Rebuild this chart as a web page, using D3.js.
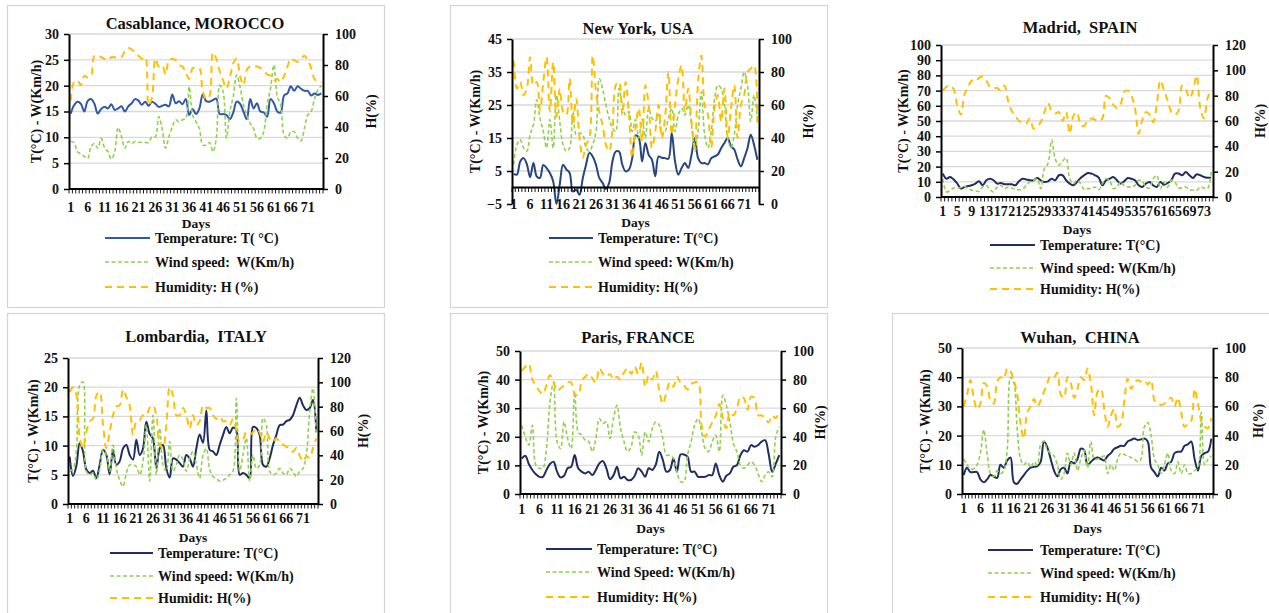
<!DOCTYPE html>
<html>
<head>
<meta charset="utf-8">
<script src="https://cdn.jsdelivr.net/npm/d3@7"></script>
<style>
  html, body { margin: 0; padding: 0; background: #fff; }
  svg text { font-family: "Liberation Serif", "Times New Roman", serif; font-weight: bold; fill: #111; white-space: pre; }
</style>
</head>
<body>
<svg id="chart" width="1269" height="613"></svg>
<script>
// ---- Daily weather series (75 days; Paris 74) ----
const casaTemp = [14.6,16.2,16.9,16.5,15.0,17.0,17.4,16.5,14.6,15.5, 15.9,15.6,16.4,15.3,15.6,16.0,15.0,16.0,16.6,17.4, 17.1,16.3,16.9,16.1,16.9,16.5,15.9,16.1,16.3,16.0, 18.3,16.6,17.0,16.4,17.4,14.3,15.5,14.5,15.6,18.3, 17.0,16.9,17.2,17.5,14.5,14.5,14.3,13.5,14.8,16.9, 16.5,15.0,13.5,17.4,15.6,16.6,15.0,14.8,14.0,17.4, 16.6,15.0,14.8,18.1,18.5,19.9,19.0,19.9,19.4,19.0, 19.0,18.1,18.5,18.2,18.5];
const casaWind = [9.2,9.0,7.2,6.8,6.3,5.9,8.2,8.8,7.9,9.8, 8.0,7.2,5.8,7.2,11.9,10.1,7.9,9.2,8.8,9.2, 9.1,9.0,9.0,9.0,10.1,10.1,14.0,11.7,7.9,10.1, 12.0,13.4,13.0,13.4,13.7,19.8,14.3,13.0,11.7,8.5, 8.5,9.0,7.2,9.8,20.1,18.8,9.8,15.0,17.9,22.1, 19.8,16.3,14.3,12.7,11.7,9.8,9.8,11.1,16.3,19.5, 24.0,17.9,16.3,10.5,9.8,11.1,11.1,9.8,9.3,11.7, 14.3,15.0,17.5,19.2,20.0];
const casaHum = [57,69,70,67,73,72,73,86,86,85, 84,83,85,85,85,85,89,91,90,88, 86,84,85,54,59,84,79,80,74,83, 84,83,80,79,75,71,78,78,78,63, 58,60,88,84,76,70,65,72,81,84, 73,67,77,79,79,79,78,76,74,73, 70,71,69,73,79,84,83,82,84,86, 83,78,71,69,69];

const nyTemp = [4.1,3.9,7.9,8.9,7.1,3.1,7.4,3.4,2.9,6.8, 5.9,4.4,1.9,-5.0,0.9,6.9,5.5,4.4,-1.2,-0.7, -2.2,2.9,7.0,10.5,9.4,6.9,2.9,1.4,-0.4,1.4, 7.9,10.9,10.9,6.9,4.9,5.4,8.9,15.8,15.0,7.9, 13.5,9.9,8.4,3.4,9.4,9.0,8.9,8.7,16.5,8.0, 3.9,5.9,7.4,5.9,9.9,15.0,8.9,7.4,7.4,7.0, 8.9,9.4,10.0,11.9,13.5,15.0,12.5,11.5,8.5,6.4, 8.9,11.9,16.0,12.9,8.4];
const nyWind = [7,13,14.5,12,11,16,19,26.6,21,17, 12,20.6,12,28,20,13,11,12,23,16, 16.5,16,12,11,13,17,33,30,25,21, 18,17,30,25,22,23,17,20.6,15,20.6, 15,24,21,20,22,16,17,21,24,17, 22,24,22,25,19,11,17,29,16,12, 17,26.6,31,30,25,15,12,16,25,30, 35,31,20,28,21];
const nyHum = [87,70,74,66,70,89,72,74,57,74, 89,56,86,53,70,56,54,76,48,64, 40,28,36,40,90,68,56,48,36,32, 45,72,74,54,74,54,28,46,58,38, 72,60,34,44,60,40,53,80,42,60, 76,84,56,70,50,34,74,90,60,54, 34,58,66,50,70,40,58,72,40,60, 66,80,82,84,46];

const madTemp = [15.4,12.0,13.2,11.5,8.8,5.5,6.6,7.2,7.7,8.8, 10.3,7.7,11,12,11,8.8,9.2,8.4,8.4,8.4, 7.7,10.3,12,11.5,11,11,12.5,11,9.9,10.3, 12,11,14.3,14.3,11,8.8,7.7,9.9,12.5,14.3, 15.8,15.4,14.3,12.7,7.7,11,12,13.2,11,8.8, 10.3,12.5,12,11,7.7,6.6,8.8,9.9,7.7,6.6, 9.9,8.1,9.2,11,15.4,15.4,14.3,16.5,14.3,12.5, 15,14.3,13.2,12.7,12.7];
const madWind = [12,3.3,4.4,5.9,5.9,6.2,7,5.5,4.4,4, 3.7,6.6,7.7,4.8,3.3,6.6,7.7,5.5,6.6,5.9, 5,4.8,5,7.7,9.9,11,12,5.5,18.7,22, 37.4,25,21,23.5,25.7,12,8.8,11,8.8,4.8, 5.5,5.5,6.6,4.8,8.8,12,11,5.5,6.6,9.9, 7.5,6.6,6.6,7.7,11,10.3,6.6,5.9,12,14.3, 5.5,9.9,6.6,11,9.9,5.9,6.2,6.6,4.8,4.6, 4.4,6.6,5.9,5.5,16.5];
const madHum = [84,87,88,85,72,65,81,87,92,91, 94,95,92,87,86,86,84,88,76,68, 64,60,59,58,62,54,56,59,67,74, 68,66,67,60,67,50,64,67,57,56, 61,62,61,60,62,80,78,73,70,73, 83,84,80,70,50,61,67,65,59,73, 92,84,76,67,65,68,88,85,78,84, 96,70,62,78,85];

const lomTemp = [8.1,4.8,6.5,10.4,9.0,5.9,5.3,5.7,4.4,6.7, 9.3,8.4,5.1,9.3,6.7,7.3,9.5,10.1,8.4,7.6, 11.0,8.4,9.5,14.1,12.0,11.2,6.1,9.5,10.1,6.1, 4.5,7.8,7.6,7.0,6.4,8.4,7.8,6.4,9.5,11.9, 10.5,16.0,9.3,9.0,8.4,10.1,11.8,13.2,12.1,13.1, 12.7,5.0,5.3,5.0,4.4,13.2,13.0,11.8,6.7,6.4, 7.8,10.1,11.8,13.5,13.6,14.2,14.4,15.2,16.9,18.2, 16.9,16.1,16.4,17.8,12.4];
const lomWind = [5.6,6.0,9.0,20.3,20.9,5.6,5.0,5.3,4.1,5.9, 9.3,8.4,5.6,10.1,6.1,4.1,3.0,5.3,6.7,6.7, 6.4,5.0,7.3,13.5,3.9,15.2,5.0,13.0,6.7,5.6, 10.7,5.6,6.7,8.4,7.6,5.6,7.8,9.0,6.7,4.4, 8.4,9.5,5.9,4.7,4.4,3.9,4.1,4.4,5.0,5.6, 18.1,5.6,8.4,11.3,3.9,8.4,6.1,6.7,14.7,13.5, 5.6,5.0,5.3,6.1,5.3,5.0,6.1,5.6,4.7,5.6, 6.1,8.4,15.8,19.8,11.8];
const lomHum = [92,96,90,55,46,59,68,70,89,92, 65,46,59,73,80,81,94,88,81,57, 68,69,73,73,79,81,73,49,46,65, 96,89,73,73,79,73,62,73,65,68, 81,79,79,73,70,72,68,68,65,70, 61,51,53,59,57,59,62,59,51,59, 54,51,54,51,49,47,46,43,46,40, 35,39,38,46,54];

const parTemp = [12.4,13.4,10.5,8.4,6.9,6.0,6.0,8.4,10.5,11.3, 7.8,5.8,6.4,9.0,9.5,13.6,9.0,7.8,7.2,7.8, 6.6,8.4,10.7,11.5,9.0,5.2,6.5,9.5,5.5,6.0, 4.9,4.9,6.3,9.0,7.8,6.0,9.0,8.4,10.3,14.8, 11.9,7.8,8.4,12.4,7.8,13.8,13.8,13.0,7.8,7.8, 6.0,6.0,6.0,6.6,6.6,10.7,6.6,4.3,6.4,7.2, 9.5,10.1,13.6,15.3,14.8,17.1,16.5,17.1,18.3,18.8, 14.0,7.8,10.5,13.6];
const parWind = [24,20,17.1,24,10.1,9,9,15.9,32.2,39, 18.3,15.9,25.2,19.4,15.9,35.7,21.7,20.6,18.8,18.3, 14.8,19.4,26.4,24.7,25.2,19.4,26.4,31,22.9,18.3, 14.8,16.5,21.7,20.6,13.6,21.7,18.3,22.9,25.2,24, 19.4,13.6,13.6,12.4,7.8,4.3,4.3,13.6,18.3,24, 26.4,21.7,15.9,14.8,18.3,20.6,14.8,34.5,31,25.2, 17.7,14.8,10.1,9,10.1,11.3,10.1,7.2,4.3,6.6, 7.8,6,20,23.5];
const parHum = [86,89,91,80,76,72,70,76,83,79, 72,74,76,78,78,70,69,79,82,84, 81,78,88,84,82,84,80,82,80,85, 88,84,89,84,92,75,83,80,86,72, 63,71,78,75,82,78,76,73,77,78, 78,48,40,45,50,55,63,53,46,57, 55,60,68,67,59,68,67,55,55,53, 50,55,53,58];

const wuhTemp = [6.5,9,7.5,7.5,7.5,5,4,5,6.5,6, 5.5,10,9,11.5,12.5,4,3.5,5,6.5,8, 9,9.3,9.5,11,18,16,12,8,6,8.5, 9,7,11,10.5,12,15.5,15,10,11,12, 12.5,12,11.5,13,14,15.5,16,16.5,16.5,18, 18.5,19,18.5,18.7,19,18,9,7.5,6,9, 8,10.5,11,14,14.5,14.5,16.5,17,18,12, 8,13,14,14.5,19];
const wuhWind = [12,10,8.5,8.7,10,14,22,14,7,6, 8,7,8,15,40,38,22,12,10,11, 9,11,10,17,18,15,14,13,10,5, 7,14,10,14,8,12,15,9,18,12, 12,12.5,13,7,10,8,12,14,13.5,13, 12.5,12,11,12,23,24.5,20,12,10,7, 10,14,8,7,11,7,10,7,7,8, 9,28,10,12,13];
const wuhHum = [60,68,78,66,58,62,76,74,64,62, 77,80,79,86,84,78,68,48,38,56, 60,65,60,64,70,76,81,80,83,68, 66,80,76,66,72,80,78,86,76,54, 70,72,58,46,54,58,46,48,64,79, 72,76,78,77,78,75,78,64,62,61, 62,64,66,60,66,56,46,48,50,72, 62,50,46,45,52];

// ---- Axis tick values ----
const casaLeftTicks = [0,5,10,15,20,25,30];
const nyLeftTicks = [-5,5,15,25,35,45];
const madLeftTicks = [0,10,20,30,40,50,60,70,80,90,100];
const lomLeftTicks = [0,5,10,15,20,25];
const fiftyLeftTicks = [0,10,20,30,40,50];
const hum100Ticks = [0,20,40,60,80,100];
const hum120Ticks = [0,20,40,60,80,100,120];
const dayTicksBy5 = [1,6,11,16,21,26,31,36,41,46,51,56,61,66,71];
const dayTicksBy4 = [1,5,9,13,17,21,25,29,33,37,41,45,49,53,57,61,65,69,73];

const COL_WIND = "#92d050";
const COL_HUM = "#ffc000";
const DASH_WIND = "4,2.5";
const DASH_HUM = "7,5";

const panels = [
  { title: "Casablance, MOROCCO", temp: casaTemp, wind: casaWind, hum: casaHum,
    leftTicks: casaLeftTicks, rightTicks: hum100Ticks, dayTicks: dayTicksBy5, tempColor: "#3158a8",
    box: [7, 5, 384, 307], plot: { x0: 69, x1: 323, y0: 34, y1: 189 },
    titleX: 195, titleY: 23, leftTitleX: 36, rightTitleX: 371, labelY: 207, daysY: 223,
    legend: { x0: 105, x1: 150, tx: 155, rows: [238, 262, 287] },
    legendText: ["Temperature: T( °C)", "Wind speed:  W(Km/h)", "Humidity: H (%)"] },
  { title: "New York, USA", temp: nyTemp, wind: nyWind, hum: nyHum,
    leftTicks: nyLeftTicks, rightTicks: hum100Ticks, dayTicks: dayTicksBy5, tempColor: "#27467d",
    box: [450, 5, 827, 307], plot: { x0: 512, x1: 759, y0: 39, y1: 204 },
    titleX: 638, titleY: 28, leftTitleX: 475, rightTitleX: 808, labelY: 204, daysY: 222,
    legend: { x0: 549, x1: 593, tx: 598, rows: [238, 262, 287] },
    legendText: ["Temperature: T(°C)", "Wind speed: W(Km/h)", "Humidity: H(%)"] },
  { title: "Madrid,  SPAIN", temp: madTemp, wind: madWind, hum: madHum,
    leftTicks: madLeftTicks, rightTicks: hum120Ticks, dayTicks: dayTicksBy4, tempColor: "#1f2e5e",
    box: null, plot: { x0: 941, x1: 1213, y0: 45, y1: 197 },
    titleX: 1080, titleY: 27, leftTitleX: 903, rightTitleX: 1260, labelY: 211, daysY: 229,
    legend: { x0: 990, x1: 1035, tx: 1040, rows: [245, 268, 289] },
    legendText: ["Temperature: T(°C)", "Wind speed: W(Km/h)", "Humidity: H(%)"] },
  { title: "Lombardia,  ITALY", temp: lomTemp, wind: lomWind, hum: lomHum,
    leftTicks: lomLeftTicks, rightTicks: hum120Ticks, dayTicks: dayTicksBy5, tempColor: "#1f2e5e",
    box: [7, 313, 384, 640], plot: { x0: 68, x1: 318, y0: 358, y1: 504 },
    titleX: 196, titleY: 336, leftTitleX: 33, rightTitleX: 363, labelY: 518, daysY: 537,
    legend: { x0: 110, x1: 153, tx: 158, rows: [553, 576, 598] },
    legendText: ["Temperature: T(°C)", "Wind speed: W(Km/h)", "Humidit: H(%)"] },
  { title: "Paris, FRANCE", temp: parTemp, wind: parWind, hum: parHum,
    leftTicks: fiftyLeftTicks, rightTicks: hum100Ticks, dayTicks: dayTicksBy5, tempColor: "#1f2e5e",
    box: [450, 313, 827, 640], plot: { x0: 520, x1: 781, y0: 351, y1: 494 },
    titleX: 638, titleY: 337, leftTitleX: 483, rightTitleX: 820, labelY: 509, daysY: 528,
    legend: { x0: 546, x1: 592, tx: 597, rows: [549, 572, 597] },
    legendText: ["Temperature: T(°C)", "Wind Speed: W(Km/h)", "Humidity: H(%)"] },
  { title: "Wuhan,  CHINA", temp: wuhTemp, wind: wuhWind, hum: wuhHum,
    leftTicks: fiftyLeftTicks, rightTicks: hum100Ticks, dayTicks: dayTicksBy5, tempColor: "#1f2e5e",
    box: [892, 313, 1280, 640], plot: { x0: 962, x1: 1213, y0: 348, y1: 494 },
    titleX: 1080, titleY: 337, leftTitleX: 925, rightTitleX: 1258, labelY: 508, daysY: 528,
    legend: { x0: 988, x1: 1033, tx: 1040, rows: [550, 573, 597] },
    legendText: ["Temperature: T(°C)", "Wind speed: W(Km/h)", "Humidity: H(%)"] }
];

const svg = d3.select("#chart");

function styleAxis(sel) {
  sel.select(".domain").attr("stroke", "#000").attr("stroke-width", 2);
  sel.selectAll(".tick line").attr("stroke", "#000").attr("stroke-width", 1.5);
  sel.selectAll(".tick text").style("font-size", "14px").attr("fill", "#111");
}

function drawPanel(p) {
  const g = svg.append("g");
  const P = p.plot;

  if (p.box) {
    g.append("rect")
      .attr("x", p.box[0] + 0.5).attr("y", p.box[1] + 0.5)
      .attr("width", p.box[2] - p.box[0]).attr("height", p.box[3] - p.box[1])
      .attr("fill", "none").attr("stroke", "#d4d4d4").attr("stroke-width", 1.2);
  }

  const days = d3.range(1, p.temp.length + 1);
  const x = d3.scaleBand().domain(days).range([P.x0, P.x1]).padding(0);
  const yL = d3.scaleLinear().domain(d3.extent(p.leftTicks)).range([P.y1, P.y0]);
  const yR = d3.scaleLinear().domain(d3.extent(p.rightTicks)).range([P.y1, P.y0]);
  const cx = d => x(d) + x.bandwidth() / 2;

  // horizontal gridlines at the primary-axis ticks
  g.append("g").selectAll("line")
    .data(p.leftTicks.slice(1))
    .join("line")
    .attr("x1", P.x0).attr("x2", P.x1)
    .attr("y1", d => yL(d)).attr("y2", d => yL(d))
    .attr("stroke", "#d9d9d9").attr("stroke-width", 1.3);

  // series
  const lineL = d3.line().x((d, i) => cx(days[i])).y(d => yL(d)).curve(d3.curveCatmullRom.alpha(0.5));
  const lineR = d3.line().x((d, i) => cx(days[i])).y(d => yR(d)).curve(d3.curveCatmullRom.alpha(0.5));

  g.append("path").datum(p.temp).attr("d", lineL)
    .attr("fill", "none").attr("stroke", p.tempColor).attr("stroke-width", 2);
  g.append("path").datum(p.wind).attr("d", lineL)
    .attr("fill", "none").attr("stroke", COL_WIND).attr("stroke-width", 1.6)
    .attr("stroke-dasharray", DASH_WIND);
  g.append("path").datum(p.hum).attr("d", lineR)
    .attr("fill", "none").attr("stroke", COL_HUM).attr("stroke-width", 2)
    .attr("stroke-dasharray", DASH_HUM);

  // category axis: line at zero, one small tick per day boundary
  const axisY = yL(0);
  const bw = x.bandwidth();
  g.append("g").selectAll("line")
    .data(d3.range(0, days.length + 1))
    .join("line")
    .attr("x1", i => P.x0 + i * bw).attr("x2", i => P.x0 + i * bw)
    .attr("y1", axisY).attr("y2", axisY + 4.5)
    .attr("stroke", "#000").attr("stroke-width", 0.9);
  g.append("line")
    .attr("x1", P.x0).attr("x2", P.x1).attr("y1", axisY).attr("y2", axisY)
    .attr("stroke", "#000").attr("stroke-width", 2);

  const xAxis = d3.axisBottom(x).tickValues(p.dayTicks).tickSize(0).tickPadding(0);
  const gx = g.append("g").attr("transform", `translate(0,${p.labelY - 5.3})`).call(xAxis);
  gx.select(".domain").remove();
  gx.selectAll(".tick text").style("font-size", "14px").attr("fill", "#111");

  // value axes
  const gl = g.append("g").attr("transform", `translate(${P.x0},0)`)
    .call(d3.axisLeft(yL).tickValues(p.leftTicks).tickSize(5).tickSizeOuter(0).tickPadding(5));
  styleAxis(gl);
  const gr = g.append("g").attr("transform", `translate(${P.x1},0)`)
    .call(d3.axisRight(yR).tickValues(p.rightTicks).tickSize(5).tickSizeOuter(0).tickPadding(7));
  styleAxis(gr);

  // titles
  g.append("text").attr("x", p.titleX).attr("y", p.titleY).attr("dy", "0.35em")
    .attr("text-anchor", "middle").style("font-size", "16.5px").text(p.title);
  const midY = (P.y0 + P.y1) / 2;
  g.append("text").attr("transform", `translate(${p.leftTitleX},${midY}) rotate(-90)`)
    .attr("dy", "0.35em").attr("text-anchor", "middle").style("font-size", "14px")
    .text("T(°C) - W(Km/h)");
  g.append("text").attr("transform", `translate(${p.rightTitleX},${midY}) rotate(-90)`)
    .attr("dy", "0.35em").attr("text-anchor", "middle").style("font-size", "14px")
    .text("H(%)");
  g.append("text").attr("x", (P.x0 + P.x1) / 2).attr("y", p.daysY).attr("dy", "0.35em")
    .attr("text-anchor", "middle").style("font-size", "13.5px").text("Days");

  // legend
  const L = p.legend;
  const keys = [
    { color: p.tempColor, dash: null, width: 2 },
    { color: COL_WIND, dash: DASH_WIND, width: 1.6 },
    { color: COL_HUM, dash: DASH_HUM, width: 2 }
  ];
  keys.forEach((k, i) => {
    const y = L.rows[i];
    g.append("line").attr("x1", L.x0).attr("x2", L.x1).attr("y1", y).attr("y2", y)
      .attr("stroke", k.color).attr("stroke-width", k.width)
      .attr("stroke-dasharray", k.dash);
    g.append("text").attr("x", L.tx).attr("y", y).attr("dy", "0.35em")
      .style("font-size", "14px").text(p.legendText[i]);
  });
}

panels.forEach(drawPanel);
</script>
</body>
</html>
